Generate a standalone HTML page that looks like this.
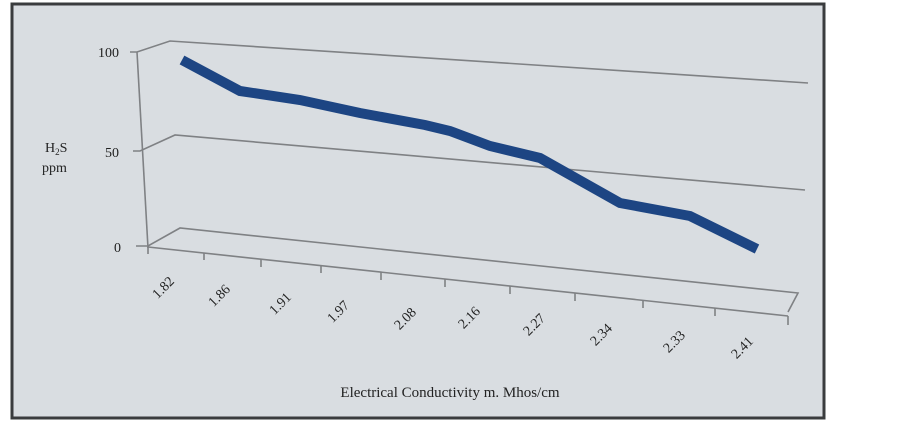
<!DOCTYPE html>
<html><head><meta charset="utf-8"><style>
body{margin:0;background:#fff;}
svg{display:block;font-family:"Liberation Serif",serif;}
</style></head><body>
<svg width="902" height="423" viewBox="0 0 902 423">
<rect x="0" y="0" width="902" height="423" fill="#fff"/>
<rect x="12" y="4" width="812" height="414" fill="#d9dde1" stroke="#3a3c3e" stroke-width="3"/>
<g stroke="#7f8184" stroke-width="1.6" fill="none">
<polyline points="130,52 137,52 170,41 808,83"/>
<polyline points="133,151 140,151 175,135 805,190"/>
<polyline points="136,246 148,246 180,228 798,293 788,312"/>
<line x1="137" y1="52" x2="148" y2="248"/>
<line x1="148" y1="247" x2="788" y2="316"/>
<line x1="148" y1="247" x2="148" y2="254"/>
<line x1="204" y1="253" x2="204" y2="260"/>
<line x1="261" y1="259" x2="261" y2="267"/>
<line x1="321" y1="266" x2="321" y2="273"/>
<line x1="381" y1="272" x2="381" y2="280"/>
<line x1="445" y1="279" x2="445" y2="287"/>
<line x1="510" y1="286" x2="510" y2="294"/>
<line x1="575" y1="293" x2="575" y2="301"/>
<line x1="643" y1="300" x2="643" y2="308"/>
<line x1="715" y1="308" x2="715" y2="316"/>
<line x1="788" y1="316" x2="788" y2="325"/>
</g>
<polyline points="182,60 240,91 300,100 360,113 425,125 450,131 490,146 540,158 620,203 690,216 757,249" fill="none" stroke="#1d4583" stroke-width="10" stroke-linejoin="miter"/>
<g font-size="14" fill="#222">
<text x="119" y="57" text-anchor="end">100</text>
<text x="119" y="157" text-anchor="end">50</text>
<text x="121" y="252" text-anchor="end">0</text>
<text x="45" y="152">H<tspan font-size="9" dy="3">2</tspan><tspan dy="-3">S</tspan></text>
<text x="42" y="172">ppm</text>
<text x="450" y="397" text-anchor="middle" font-size="15">Electrical Conductivity m. Mhos/cm</text>
</g>
<g font-size="14" fill="#222" text-anchor="end">
<text transform="translate(175,282) rotate(-45)">1.82</text>
<text transform="translate(231,290) rotate(-45)">1.86</text>
<text transform="translate(292,298) rotate(-45)">1.91</text>
<text transform="translate(350,306) rotate(-45)">1.97</text>
<text transform="translate(417,313) rotate(-45)">2.08</text>
<text transform="translate(481,312) rotate(-45)">2.16</text>
<text transform="translate(546,319) rotate(-45)">2.27</text>
<text transform="translate(613,329) rotate(-45)">2.34</text>
<text transform="translate(686,336) rotate(-45)">2.33</text>
<text transform="translate(754,342) rotate(-45)">2.41</text>
</g>
</svg>
</body></html>
